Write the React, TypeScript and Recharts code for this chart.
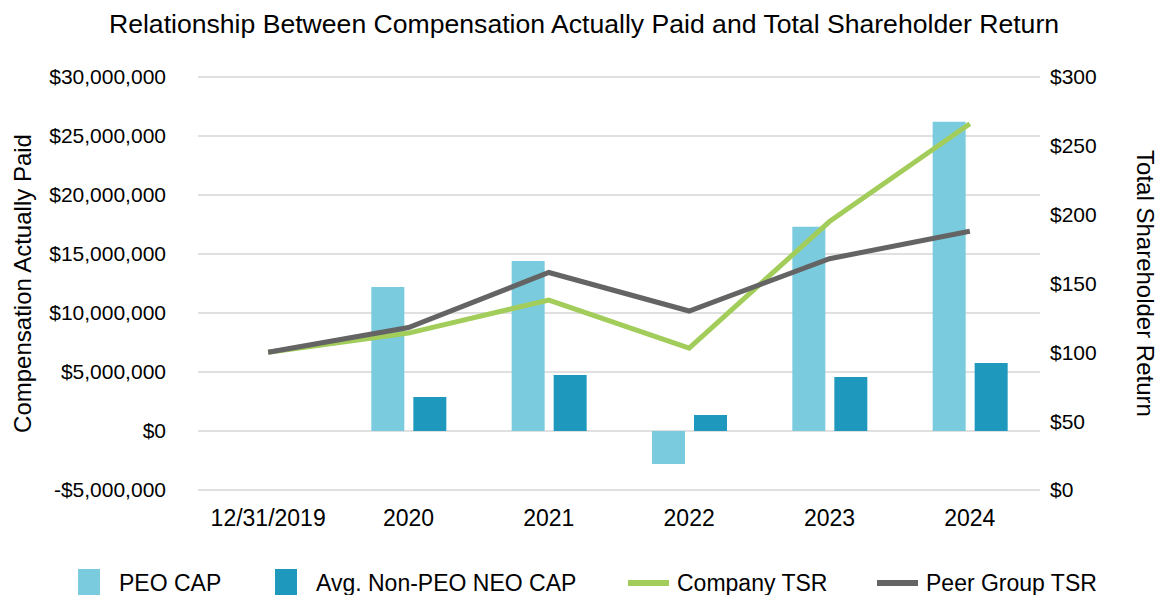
import React from "react";
import {
  Bar,
  CartesianGrid,
  ComposedChart,
  Line,
  XAxis,
  YAxis,
} from "recharts";

const YEARS = ["12/31/2019", "2020", "2021", "2022", "2023", "2024"];
const PEO_CAP = [null, 12200000, 14400000, -2800000, 17300000, 26200000];
const NEO_CAP = [null, 2880000, 4750000, 1360000, 4580000, 5760000];
const COMPANY_TSR = [100, 114, 138, 103, 195, 266];
const PEER_TSR = [100, 118, 158, 130, 168, 188];

const CAP_TICKS = [-5000000, 0, 5000000, 10000000, 15000000, 20000000, 25000000, 30000000];
const TSR_TICKS = [0, 50, 100, 150, 200, 250, 300];

const data = YEARS.map((year, i) => ({
  year,
  peo: PEO_CAP[i],
  neo: NEO_CAP[i],
  company: COMPANY_TSR[i],
  peer: PEER_TSR[i],
}));

const FONT = "'Liberation Sans', Arial, sans-serif";

const fmtMoney = (v: number) =>
  (v < 0 ? "-$" : "$") + Math.abs(v).toLocaleString("en-US");

const LEGEND = [
  { name: "PEO CAP", color: "#7acbdd", kind: "box", x: 78 },
  { name: "Avg. Non-PEO NEO CAP", color: "#1e98bc", kind: "box", x: 275 },
  { name: "Company TSR", color: "#a2cd5a", kind: "line", x: 628 },
  { name: "Peer Group TSR", color: "#646464", kind: "line", x: 877 },
];

export default function App() {
  return (
    <div
      style={{
        position: "absolute",
        left: 0,
        top: 0,
        width: 1160,
        height: 595,
        overflow: "hidden",
        background: "#fff",
        fontFamily: FONT,
      }}
    >
      <div
        style={{
          position: "absolute",
          top: 9,
          left: 0,
          width: 1168,
          textAlign: "center",
          fontSize: 26.6,
          color: "#000",
          whiteSpace: "nowrap",
        }}
      >
        Relationship Between Compensation Actually Paid and Total Shareholder Return
      </div>
      <div style={{ position: "absolute", left: 0, top: 0 }}>
        <ComposedChart
          width={1160}
          height={540}
          data={data}
          margin={{ top: 77, right: 0, left: 0, bottom: 0 }}
          barGap={9}
          barSize={33}
        >
          <CartesianGrid
            yAxisId="cap"
            vertical={false}
            stroke="#e0e0e0"
            strokeWidth={2}
          />
          <XAxis
            dataKey="year"
            axisLine={false}
            tickLine={false}
            tickSize={0}
            tickMargin={20}
            height={50}
            tick={{ fontSize: 23, fill: "#000", fontFamily: FONT }}
            interval={0}
          />
          <YAxis
            yAxisId="cap"
            orientation="left"
            width={198}
            domain={[-5000000, 30000000]}
            ticks={CAP_TICKS}
            tickFormatter={fmtMoney}
            axisLine={false}
            tickLine={false}
            tickSize={0}
            tickMargin={32}
            tick={{ fontSize: 21, fill: "#000", fontFamily: FONT }}
            label={{
              value: "Compensation Actually Paid",
              angle: -90,
              position: "center",
              dx: -77,
              style: { fontSize: 24, fill: "#000", fontFamily: FONT, textAnchor: "middle" },
            }}
          />
          <YAxis
            yAxisId="tsr"
            orientation="right"
            width={120}
            domain={[0, 300]}
            ticks={TSR_TICKS}
            tickFormatter={(v: number) => "$" + v}
            axisLine={false}
            tickLine={false}
            tickSize={0}
            tickMargin={10}
            tick={{ fontSize: 21, fill: "#000", fontFamily: FONT }}
            label={{
              value: "Total Shareholder Return",
              angle: 90,
              position: "center",
              dx: 46,
              style: { fontSize: 24, fill: "#000", fontFamily: FONT, textAnchor: "middle" },
            }}
          />
          <Bar
            yAxisId="cap"
            dataKey="peo"
            name="PEO CAP"
            fill="#7acbdd"
            isAnimationActive={false}
          />
          <Bar
            yAxisId="cap"
            dataKey="neo"
            name="Avg. Non-PEO NEO CAP"
            fill="#1e98bc"
            isAnimationActive={false}
          />
          <Line
            yAxisId="tsr"
            dataKey="company"
            name="Company TSR"
            stroke="#a2cd5a"
            strokeWidth={5}
            dot={false}
            type="linear"
            isAnimationActive={false}
          />
          <Line
            yAxisId="tsr"
            dataKey="peer"
            name="Peer Group TSR"
            stroke="#646464"
            strokeWidth={5}
            dot={false}
            type="linear"
            isAnimationActive={false}
          />
        </ComposedChart>
      </div>
      {LEGEND.map((item) => (
        <div
          key={item.name}
          style={{
            position: "absolute",
            left: item.x,
            top: 568,
            height: 30,
            display: "flex",
            alignItems: "center",
            fontSize: 23,
            color: "#000",
            whiteSpace: "nowrap",
          }}
        >
          {item.kind === "box" ? (
            <span
              style={{
                display: "inline-block",
                width: 22,
                height: 28,
                background: item.color,
                marginRight: 19,
              }}
            />
          ) : (
            <span
              style={{
                display: "inline-block",
                width: 41,
                height: 6,
                background: item.color,
                marginRight: 8,
              }}
            />
          )}
          {item.name}
        </div>
      ))}
    </div>
  );
}
